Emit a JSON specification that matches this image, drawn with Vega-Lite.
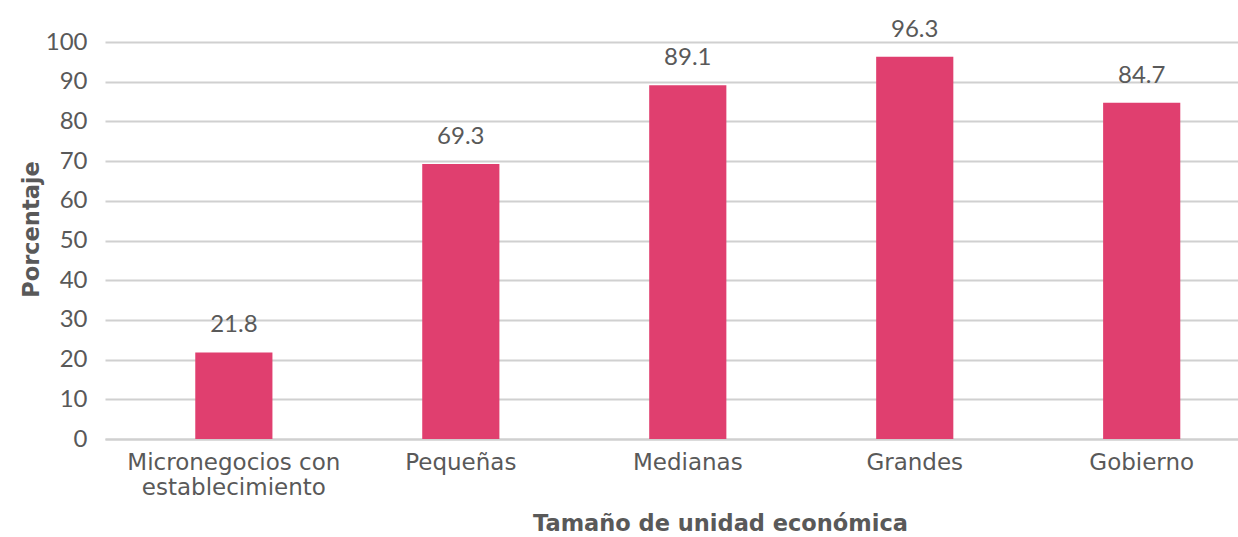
{
  "$schema": "https://vega.github.io/schema/vega-lite/v6.json",
  "width": 1133,
  "height": 397,
  "autosize": {"type": "none"},
  "padding": {"left": 105, "top": 42, "right": 0, "bottom": 98},
  "background": "white",
  "config": {
    "view": {"stroke": null},
    "font": "Lato"
  },
  "data": {
    "values": [
      {"tamano": "Micronegocios con establecimiento", "pct": 21.8},
      {"tamano": "Pequeñas", "pct": 69.3},
      {"tamano": "Medianas", "pct": 89.1},
      {"tamano": "Grandes", "pct": 96.3},
      {"tamano": "Gobierno", "pct": 84.7}
    ]
  },
  "encoding": {
    "x": {
      "field": "tamano",
      "type": "nominal",
      "sort": null,
      "scale": {"paddingInner": 0.66, "paddingOuter": 0.326, "align": 0.61},
      "axis": {
        "title": "Tamaño de unidad económica",
        "titleFont": "DejaVu Sans",
        "titleFontWeight": "bold",
        "titleFontSize": 22.5,
        "titleColor": "#595959",
        "titleX": 615,
        "titleY": 84,
        "titleBaseline": "middle",
        "labelAngle": 0,
        "labelFont": "DejaVu Sans",
        "labelFontSize": 23,
        "labelColor": "#595959",
        "labelPadding": 12,
        "labelLineHeight": 25,
        "labelLimit": 400,
        "labelExpr": "datum.label == 'Micronegocios con establecimiento' ? ['Micronegocios con', 'establecimiento'] : datum.label",
        "ticks": false,
        "domainColor": "#d0d0d0",
        "domainWidth": 2,
        "grid": false
      }
    },
    "y": {
      "field": "pct",
      "type": "quantitative",
      "scale": {"domain": [0, 100], "nice": false},
      "axis": {
        "title": "Porcentaje",
        "titleFont": "DejaVu Sans",
        "titleFontWeight": "bold",
        "titleFontSize": 22.5,
        "titleColor": "#595959",
        "titleX": -74,
        "titleY": 187,
        "titleAngle": -90,
        "titleAlign": "center",
        "titleBaseline": "middle",
        "values": [0, 10, 20, 30, 40, 50, 60, 70, 80, 90, 100],
        "labelFontSize": 24,
        "labelColor": "#595959",
        "labelPadding": 18,
        "ticks": false,
        "domain": false,
        "gridColor": "#d0d0d0",
        "gridWidth": 2
      }
    }
  },
  "layer": [
    {"mark": {"type": "bar", "color": "#E03F6F"}},
    {
      "mark": {"type": "text", "baseline": "alphabetic", "dy": -20, "fontSize": 24, "color": "#595959", "font": "Lato"},
      "encoding": {"text": {"field": "pct", "type": "quantitative", "format": ".1f"}}
    }
  ]
}
